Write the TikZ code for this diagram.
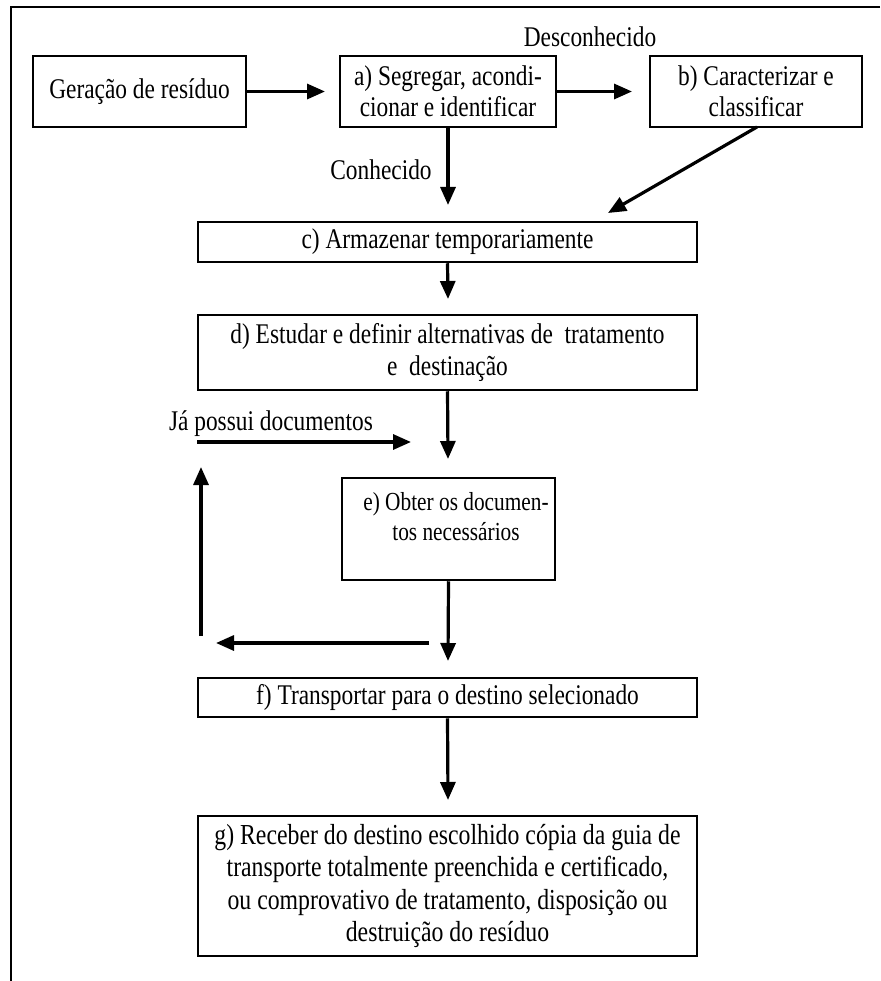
\documentclass[tikz,border=0pt]{standalone}
\usepackage{fontspec}
\setmainfont{Liberation Serif}[FakeStretch=0.82]
\usetikzlibrary{arrows.meta}
\begin{document}
\begin{tikzpicture}[x=1pt,y=-1pt,
  box/.style={draw=black, line width=2.5pt, rectangle, inner sep=0pt, align=center},
  arr/.style={line width=3.2pt, -{Triangle[length=18pt,width=15pt]}},
  lbl/.style={inner sep=0pt, align=center},
  every node/.style={font=\fontsize{28.5}{31.5}\selectfont}]
\useasboundingbox (0,0) rectangle (880,981);
% frame
\draw[line width=2pt] (880,7) -- (11,7) -- (11,981);
% boxes
\node[box, minimum width=213pt, minimum height=71pt] (gen) at (139.5,91.5) {Geração de resíduo};
\node[box, minimum width=216pt, minimum height=71pt] (a) at (448,91.5) {a) Segregar, acondi-\\cionar e identificar};
\node[box, minimum width=212pt, minimum height=71pt] (b) at (756,91.5) {b) Caracterizar e\\classificar};
\node[box, minimum width=499pt, minimum height=40pt] (c) at (447.5,242) {c) Armazenar temporariamente};
\node[box, minimum width=499pt, minimum height=75pt] (d) at (447.5,352.5) {d) Estudar e definir alternativas de\ \ tratamento\\e\ \ destinação};
\node[box, minimum width=213pt, minimum height=102pt] (e) at (448.5,529) {};
\node[lbl, font=\fontsize{26}{30}\selectfont] (etext) at (456,517) {e) Obter os documen-\\tos necessários};
\node[box, minimum width=499pt, minimum height=39pt] (f) at (447.5,697.5) {f) Transportar para o destino selecionado};
\node[box, minimum width=499pt, minimum height=140pt, font=\fontsize{29}{32.5}\selectfont] (g) at (447.5,886) {g) Receber do destino escolhido cópia da guia de\\transporte totalmente preenchida e certificado,\\ou comprovativo de tratamento, disposição ou\\destruição do resíduo};
% labels
\node[lbl] (desc) at (590,37) {Desconhecido};
\node[lbl] (conh) at (381,170) {Conhecido};
\node[lbl] (ja) at (271,424) {Já possui documentos};
% coordinates
\coordinate (gentip) at (325,91.5);
\coordinate (atip) at (632,91.5);
\coordinate (adown) at (448,205);
\coordinate (bstart) at (757,127);
\coordinate (btip) at (608,213);
\coordinate (ctip) at (448,299);
\coordinate (dtip) at (448,459);
\coordinate (jastart) at (197,442);
\coordinate (jatip) at (411,442);
\coordinate (upstart) at (201,636);
\coordinate (uptip) at (201,467);
\coordinate (etip) at (448,661);
\coordinate (lstart) at (429,643);
\coordinate (ltip) at (216,643);
\coordinate (ftip) at (448,800);
% arrows
\draw[arr] (gen.east) -- (gentip);
\draw[arr] (a.east) -- (atip);
\draw[arr] (a.south) -- (adown);
\draw[arr] (bstart) -- (btip);
\draw[arr] (c.south) -- (ctip);
\draw[arr] (d.south) -- (dtip);
\draw[arr] (jastart) -- (jatip);
\draw[arr] (upstart) -- (uptip);
\draw[arr] (e.south) -- (etip);
\draw[arr] (lstart) -- (ltip);
\draw[arr] (f.south) -- (ftip);
\end{tikzpicture}
\end{document}
